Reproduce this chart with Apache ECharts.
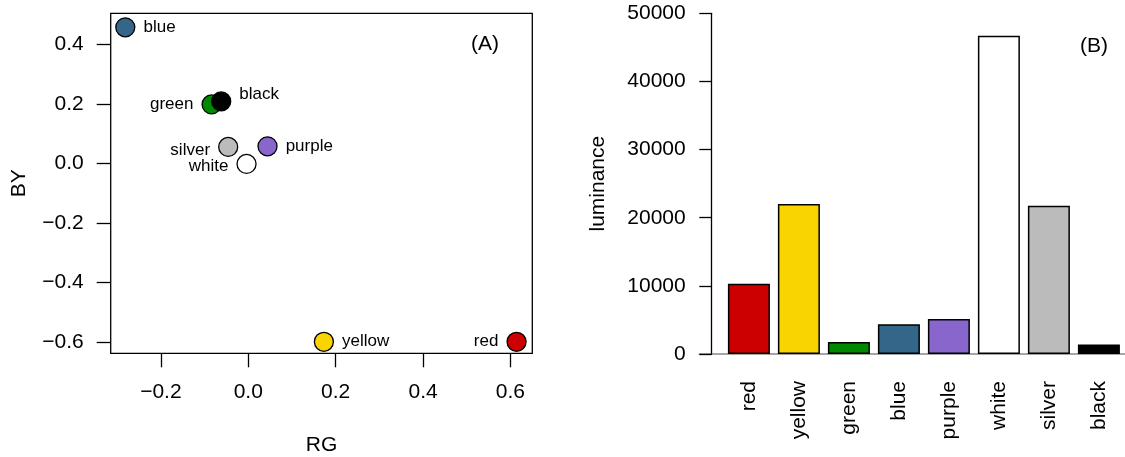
<!DOCTYPE html>
<html>
<head>
<meta charset="utf-8">
<script src="https://cdn.jsdelivr.net/npm/echarts@6/dist/echarts.min.js"></script>
<style>
html,body{margin:0;padding:0;background:#fff;}
#chart{width:1125px;height:457px;}
</style>
</head>
<body>
<div id="chart"></div>
<script>
// ---- data ----
var colourNames = ['red','yellow','green','blue','purple','white','silver','black'];
var colourFills = ['#CC0000','#FAD400','#008800','#336688','#8866CC','#FFFFFF','#BBBBBB','#000000'];
var rgValues = [0.614, 0.173, -0.084, -0.2815, 0.044, -0.004, -0.046, -0.062];
var byValues = [-0.600, -0.600, 0.198, 0.457, 0.057, -0.002, 0.055, 0.208];
var luminanceValues = [10300, 22000, 1750, 4350, 5150, 46700, 21750, 1400];
var rgTicks = [-0.2, 0.0, 0.2, 0.4, 0.6];
var byTicks = [-0.6, -0.4, -0.2, 0.0, 0.2, 0.4];
var labelSides = ['left','right','left','right','right','left','left','right'];

var FONT = '"Liberation Sans", Arial, Helvetica, sans-serif';
var TICKFS = 21;
function fmt(v){ var s = Math.abs(v).toFixed(1); return (v < -1e-9 ? '\u2212' : '') + s; }

var scatterData = colourNames.map(function(n,i){
  var lab = {position: labelSides[i]};
  if (n === 'black') lab.offset = [0,-7];
  if (n === 'silver') lab.offset = [0,3];
  if (n === 'white') lab.offset = [0,2];
  return {name:n, value:[rgValues[i], byValues[i]], itemStyle:{color:colourFills[i]}, label:lab};
});
var barData = colourNames.map(function(n,i){
  return {name:n, value:luminanceValues[i], itemStyle:{color:colourFills[i]}};
});

var chart = echarts.init(document.getElementById('chart'), null, {renderer:'canvas'});
chart.setOption({
  animation:false,
  backgroundColor:'#fff',
  textStyle:{fontFamily:FONT},
  grid:[
    {left:110.7, top:13.3, width:421.6, height:340, show:true, borderColor:'#000', borderWidth:1.3, backgroundColor:'transparent', containLabel:false, outerBoundsMode:'none'},
    {left:723.9, top:13.3, width:400, height:340.7, containLabel:false, outerBoundsMode:'none'},
    {left:699.3, top:13.3, right:0, height:340.7, containLabel:false, outerBoundsMode:'none'}
  ],
  xAxis:[
    {gridIndex:0, type:'value', min:-0.3149, max:0.650,
     axisLine:{show:false, onZero:false}, splitLine:{show:false},
     axisTick:{show:true, inside:false, length:14, customValues:rgTicks, lineStyle:{color:'#000', width:1.3}},
     axisLabel:{customValues:rgTicks, formatter:fmt, margin:28, fontSize:TICKFS, color:'#000', fontFamily:FONT},
     name:'RG', nameLocation:'middle', nameGap:81, nameTextStyle:{fontSize:TICKFS, color:'#000', fontFamily:FONT}},
    {gridIndex:1, type:'category', data:colourNames,
     axisLine:{show:false, onZero:false}, axisTick:{show:false}, splitLine:{show:false},
     axisLabel:{rotate:90, margin:27, fontSize:TICKFS, color:'#000', fontFamily:FONT, interval:0}},
    {gridIndex:2, type:'value', min:0, max:1, z:0,
     axisLine:{show:true, onZero:false, lineStyle:{color:'#888', width:1.5}}, axisTick:{show:false}, axisLabel:{show:false}, splitLine:{show:false}}
  ],
  yAxis:[
    {gridIndex:0, type:'value', min:-0.6387, max:0.5042,
     axisLine:{show:false, onZero:false}, splitLine:{show:false},
     axisTick:{show:true, inside:false, length:14, customValues:byTicks, lineStyle:{color:'#000', width:1.3}},
     axisLabel:{customValues:byTicks, formatter:fmt, margin:27, fontSize:TICKFS, color:'#000', fontFamily:FONT},
     name:'BY', nameLocation:'middle', nameRotate:90, nameGap:81, nameTextStyle:{fontSize:TICKFS, color:'#000', fontFamily:FONT}},
    {gridIndex:1, type:'value', min:0, max:50000, interval:10000, offset:12.2, z:5,
     axisLine:{show:true, onZero:false, lineStyle:{color:'#000', width:1.3}}, splitLine:{show:false},
     axisTick:{show:true, inside:false, length:12.4, lineStyle:{color:'#000', width:1.3}},
     axisLabel:{margin:26, fontSize:TICKFS, color:'#000', fontFamily:FONT, formatter:function(v){return String(v);}},
     name:'luminance', nameLocation:'middle', nameRotate:90, nameGap:103, nameTextStyle:{fontSize:TICKFS, color:'#000', fontFamily:FONT}},
    {gridIndex:2, type:'value', show:false, min:0, max:1}
  ],
  series:[
    {type:'scatter', xAxisIndex:0, yAxisIndex:0, symbol:'circle', symbolSize:19,
     itemStyle:{borderColor:'#000', borderWidth:1.3, opacity:1},
     label:{show:true, formatter:'{b}', fontSize:17, color:'#000', distance:8, fontFamily:FONT},
     emphasis:{disabled:true},
     data:scatterData},
    {type:'bar', xAxisIndex:1, yAxisIndex:1, barWidth:42, z:3,
     itemStyle:{borderColor:'#000', borderWidth:1.5},
     emphasis:{disabled:true},
     data:barData}
  ],
  graphic:[
    {type:'text', left:471, top:34, style:{text:'(A)', fill:'#000', font:TICKFS+'px '+FONT}},
    {type:'text', left:1080, top:36, style:{text:'(B)', fill:'#000', font:TICKFS+'px '+FONT}}
  ]
});
</script>
</body>
</html>
